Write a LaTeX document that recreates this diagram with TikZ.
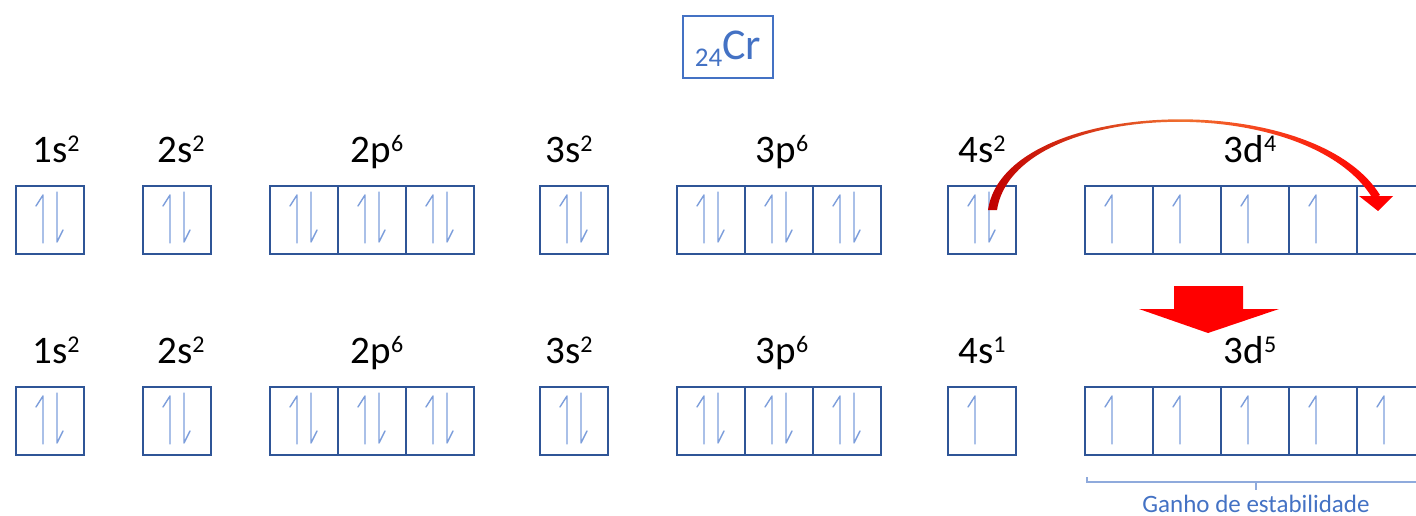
\documentclass[tikz,border=0pt]{standalone}
\usepackage{fontspec}
\setmainfont{Carlito}
\definecolor{boxblue}{HTML}{2F5597}
\definecolor{elblue}{HTML}{7D9EDB}
\definecolor{crblue}{HTML}{4472C4}
\definecolor{brblue}{HTML}{8FAADC}
\definecolor{darkred}{HTML}{C00000}
\definecolor{arcorange}{HTML}{F07030}
\newcommand\spr[1]{\raisebox{11pt}{\fontsize{24}{24}\selectfont #1}}
\newcommand\elup[1]{\draw[el] ([shift={(-7,23)}]#1.center) -- ([shift={(-7,-25)}]#1.center) -- ([shift={(-14,-14)}]#1.center);}
\newcommand\eldown[1]{\draw[el] ([shift={(7,-28)}]#1.center) -- ([shift={(7,22)}]#1.center) -- ([shift={(13,10)}]#1.center);}
\newcommand\elpair[1]{\elup{#1}\eldown{#1}}
\begin{document}
\begin{tikzpicture}[x=1pt,y=-1pt,
  orb/.style={draw=boxblue, line width=1.8pt, minimum width=68pt, minimum height=68pt, inner sep=0pt},
  el/.style={draw=elblue, line width=1.4pt, line join=round, line cap=round},
  lab/.style={anchor=base, inner sep=0pt, font=\fontsize{39}{42}\selectfont},
  brace/.style={draw=brblue, line width=1.2pt}]
\useasboundingbox (0,0) rectangle (1416,516);
\clip (0,0) rectangle (1416,516);

% title
\node[draw=crblue, line width=1.8pt, minimum width=90pt, minimum height=62pt, inner sep=0pt,
      text height=31pt, text depth=5pt, text=crblue] (cr) at (728,47)
  {{\fontsize{27}{27}\selectfont\raisebox{-7pt}{24}}{\fontsize{44}{44}\selectfont Cr}};

% rows
\foreach \r/\yb/\yl in {t/220/162, b/421/363}{
  \node[orb] (\r1s) at (50,\yb) {};
  \node[orb] (\r2s) at (177,\yb) {};
  \node[orb] (\r2pa) at (304,\yb) {};
  \node[orb] (\r2pb) at (372,\yb) {};
  \node[orb] (\r2pc) at (440,\yb) {};
  \node[orb] (\r3s) at (574,\yb) {};
  \node[orb] (\r3pa) at (711,\yb) {};
  \node[orb] (\r3pb) at (779,\yb) {};
  \node[orb] (\r3pc) at (847,\yb) {};
  \node[orb] (\r4s) at (982,\yb) {};
  \node[orb] (\r3da) at (1119,\yb) {};
  \node[orb] (\r3db) at (1187,\yb) {};
  \node[orb] (\r3dc) at (1255,\yb) {};
  \node[orb] (\r3dd) at (1323,\yb) {};
  \node[orb] (\r3de) at (1391,\yb) {};
  \node[lab] (\r l1s) at (56,\yl) {1s\spr{2}};
  \node[lab] (\r l2s) at (181,\yl) {2s\spr{2}};
  \node[lab] (\r l2p) at (377,\yl) {2p\spr{6}};
  \node[lab] (\r l3s) at (569,\yl) {3s\spr{2}};
  \node[lab] (\r l3p) at (782,\yl) {3p\spr{6}};
  \foreach \n in {1s,2s,2pa,2pb,2pc,3s,3pa,3pb,3pc}{\elpair{\r\n}}
  \foreach \n in {3da,3db,3dc,3dd}{\elup{\r\n}}
}
\node[lab] (tl4s) at (982,162) {4s\spr{2}};
\node[lab] (tl3d) at (1250,162) {3d\spr{4}};
\node[lab] (bl4s) at (982,363) {4s\spr{1}};
\node[lab] (bl3d) at (1250,363) {3d\spr{5}};
\elpair{t4s}
\elup{b4s}
\elup{b3de}

% curved transfer arrow
\shade[left color=darkred, right color=red, middle color=arcorange]
  (988,210) .. controls (1004,98) and (1312,86) .. (1380,195)
  -- (1373,199) .. controls (1308,90) and (1014,99) .. (997,210) -- cycle;
\fill[red] (1359,196) -- (1393,196) -- (1378,211) -- cycle;

% block arrow
\fill[red] (1174,286) -- (1243,286) -- (1243,309) -- (1279,309) -- (1208,333)
  -- (1139,309) -- (1174,309) -- cycle;

% brace
\draw[brace] (1087,477) -- (1087,482) -- (1430,482);
\draw[brace] (1256,482) -- (1256,490);
\node[anchor=base, inner sep=0pt, text=crblue, font=\fontsize{25}{28}\selectfont] (gain) at (1256,512) {Ganho de estabilidade};
\end{tikzpicture}
\end{document}
